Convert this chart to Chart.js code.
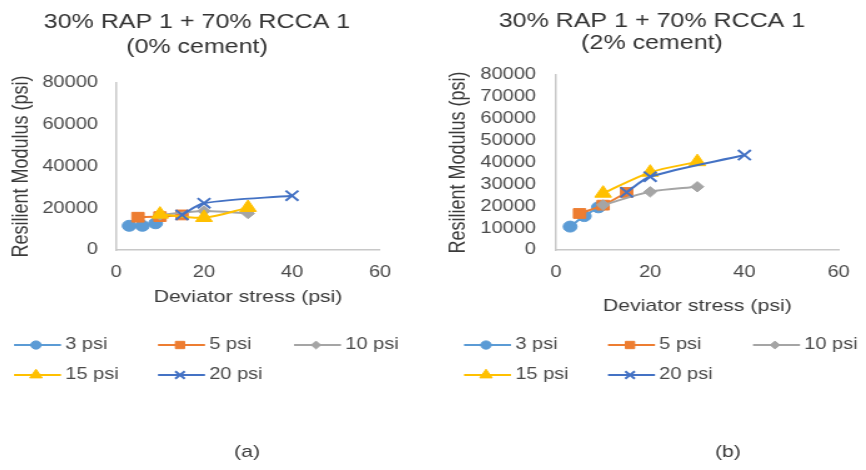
<!DOCTYPE html>
<html>
<head>
<meta charset="utf-8">
<script src="https://cdn.jsdelivr.net/npm/chart.js@4/dist/chart.umd.min.js"></script>
<style>
  body { margin: 0; background: #fff; overflow: hidden; width: 866px; height: 470px; position: relative; }
  canvas { position: absolute; top: 0; }
</style>
</head>
<body>
<!-- source figure is stretched horizontally, so draw narrow and widen with css -->
<canvas id="chartA" width="380" height="470" style="left:-41px;width:475px;height:470px"></canvas>
<canvas id="chartB" width="344" height="470" style="left:436px;width:430px;height:470px"></canvas>
<script>
// confining pressures and the deviator stresses used at each
var seriesNames = ['3 psi', '5 psi', '10 psi', '15 psi', '20 psi'];
var stress3 = [3, 6, 9];
var stress5 = [5, 10, 15];
var stress10 = [10, 20, 30];
var stress15 = [10, 20, 30];
var stress20 = [15, 20, 40];

// resilient modulus, 0% cement
var mrA_3 = [11600, 11600, 12800];
var mrA_5 = [15700, 16000, 16800];
var mrA_10 = [16800, 18700, 17500];
var mrA_15 = [17100, 15500, 20300];
var mrA_20 = [16800, 22400, 26000];

// resilient modulus, 2% cement
var mrB_3 = [10700, 15500, 19500];
var mrB_5 = [16700, 20500, 26300];
var mrB_10 = [20600, 26600, 28900];
var mrB_15 = [25900, 35500, 40300];
var mrB_20 = [26400, 33500, 43400];

var yStepA = 20000, yStepB = 10000, yMax = 80000;

var colors = ['#5B9BD5', '#ED7D31', '#A5A5A5', '#FFC000', '#4472C4'];
var markers = ['circle', 'rect', 'rectRot', 'triangle', 'crossRot'];
var markerSize = [5.5, 6.9, 5.2, 7.7, 7.2];

Chart.defaults.font.family = '"Liberation Sans", Arial, sans-serif';
Chart.defaults.color = '#4a4a4a';

function makeDatasets(yLists) {
    var xLists = [stress3, stress5, stress10, stress15, stress20];
    var out = [];
    for (var i = 0; i < yLists.length; i++) {
        var pts = [];
        for (var j = 0; j < xLists[i].length; j++) {
            pts.push({ x: xLists[i][j], y: yLists[i][j] });
        }
        out.push({
            label: seriesNames[i],
            data: pts,
            showLine: true,
            borderColor: colors[i],
            backgroundColor: colors[i],
            pointBackgroundColor: colors[i],
            pointBorderColor: colors[i],
            pointStyle: markers[i],
            pointRadius: markerSize[i],
            pointBorderWidth: i == 4 ? 2 : 1,
            borderWidth: 2,
            tension: 0.3,
            order: 5 - i
        });
    }
    return out;
}

// title + column legend like the spreadsheet one + the (a)/(b) caption
var figureText = {
    id: 'figureText',
    afterDraw: function (chart, args, opts) {
        var ctx = chart.ctx;
        ctx.save();
        ctx.textBaseline = 'middle';
        ctx.textAlign = 'center';
        ctx.fillStyle = '#333333';
        ctx.font = '20px "Liberation Sans", Arial, sans-serif';
        opts.title.forEach(function (line, k) {
            ctx.fillText(line, opts.titleX, opts.titleY[k]);
        });

        chart.data.datasets.forEach(function (ds, i) {
            var x = opts.cols[i % 3];
            var y = opts.rows[Math.floor(i / 3)];
            ctx.strokeStyle = ds.borderColor;
            ctx.lineWidth = 2;
            ctx.beginPath();
            ctx.moveTo(x, y);
            ctx.lineTo(x + 37.6, y);
            ctx.stroke();
            ctx.fillStyle = ds.pointBackgroundColor;
            ctx.strokeStyle = ds.pointBorderColor;
            ctx.lineWidth = ds.pointBorderWidth;
            Chart.helpers.drawPoint(ctx, {
                pointStyle: ds.pointStyle,
                radius: ds.pointRadius * 0.75,
                rotation: 0,
                borderWidth: ds.pointBorderWidth
            }, x + 17.6, y);
            ctx.fillStyle = '#4a4a4a';
            ctx.font = '16px "Liberation Sans", Arial, sans-serif';
            ctx.textAlign = 'left';
            ctx.fillText(ds.label, x + 41, y);
        });

        ctx.fillStyle = '#3a3a3a';
        ctx.textAlign = 'center';
        ctx.font = '17px "Liberation Sans", Arial, sans-serif';
        ctx.fillText(opts.caption, opts.captionX, 452);
        ctx.restore();
    }
};

function makeOptions(cfg) {
    return {
        responsive: false,
        devicePixelRatio: 1,
        animation: false,
        layout: { padding: { top: cfg.padTop, left: 0, right: cfg.padRight, bottom: cfg.padBottom } },
        plugins: {
            legend: { display: false },
            tooltip: { enabled: false },
            title: { display: false },
            figureText: {
                title: cfg.title,
                titleX: cfg.titleX,
                titleY: cfg.titleY,
                cols: cfg.legendCols,
                rows: [345, 375],
                caption: cfg.caption,
                captionX: cfg.captionX
            }
        },
        scales: {
            x: {
                type: 'linear',
                min: 0,
                max: 60,
                ticks: { stepSize: 20, padding: 13, font: { size: 16 } },
                grid: { display: false, drawTicks: false },
                border: { display: true, color: '#c8c8c8', width: 1.5 },
                title: {
                    display: true,
                    text: 'Deviator stress (psi)',
                    color: '#3a3a3a',
                    font: { size: 17 },
                    padding: { top: 0, bottom: cfg.xTitleBottom }
                },
                afterFit: function (s) { s.height = cfg.xHeight; }
            },
            y: {
                min: 0,
                max: yMax,
                ticks: {
                    stepSize: cfg.yStep,
                    autoSkip: false,
                    padding: cfg.yTickPad,
                    font: { size: 16, lineHeight: 1 },
                    callback: function (v) { return String(v); }
                },
                grid: { display: false, drawTicks: false },
                border: { display: true, color: '#c8c8c8', width: 1.5 },
                title: {
                    display: true,
                    text: 'Resilient Modulus (psi)',
                    color: '#3a3a3a',
                    font: { size: 18 },
                    padding: { top: cfg.yTitlePad, bottom: 0 }
                },
                afterFit: function (s) { s.width = cfg.yWidth; }
            }
        }
    };
}

new Chart(document.getElementById('chartA'), {
    type: 'scatter',
    data: { datasets: makeDatasets([mrA_3, mrA_5, mrA_10, mrA_15, mrA_20]) },
    options: makeOptions({
        title: ['30% RAP 1 + 70% RCCA 1', '(0% cement)'],
        titleX: 190.4, titleY: [22.5, 47.5],
        padTop: 83, padRight: 43.2, padBottom: 160,
        xHeight: 60, xTitleBottom: 2,
        yStep: yStepA, yWidth: 125.6, yTickPad: 14.4, yTitlePad: 38.8,
        legendCols: [44, 159.2, 268],
        caption: '(a)', captionX: 230.4
    }),
    plugins: [figureText]
});

new Chart(document.getElementById('chartB'), {
    type: 'scatter',
    data: { datasets: makeDatasets([mrB_3, mrB_5, mrB_10, mrB_15, mrB_20]) },
    options: makeOptions({
        title: ['30% RAP 1 + 70% RCCA 1', '(2% cement)'],
        titleX: 172.8, titleY: [21.7, 43],
        padTop: 75, padRight: 11.2, padBottom: 152,
        xHeight: 68, xTitleBottom: 1,
        yStep: yStepB, yWidth: 96, yTickPad: 16, yTitlePad: 6.8,
        legendCols: [22.4, 137.6, 253.6],
        caption: '(b)', captionX: 233.6
    }),
    plugins: [figureText]
});
</script>
</body>
</html>
